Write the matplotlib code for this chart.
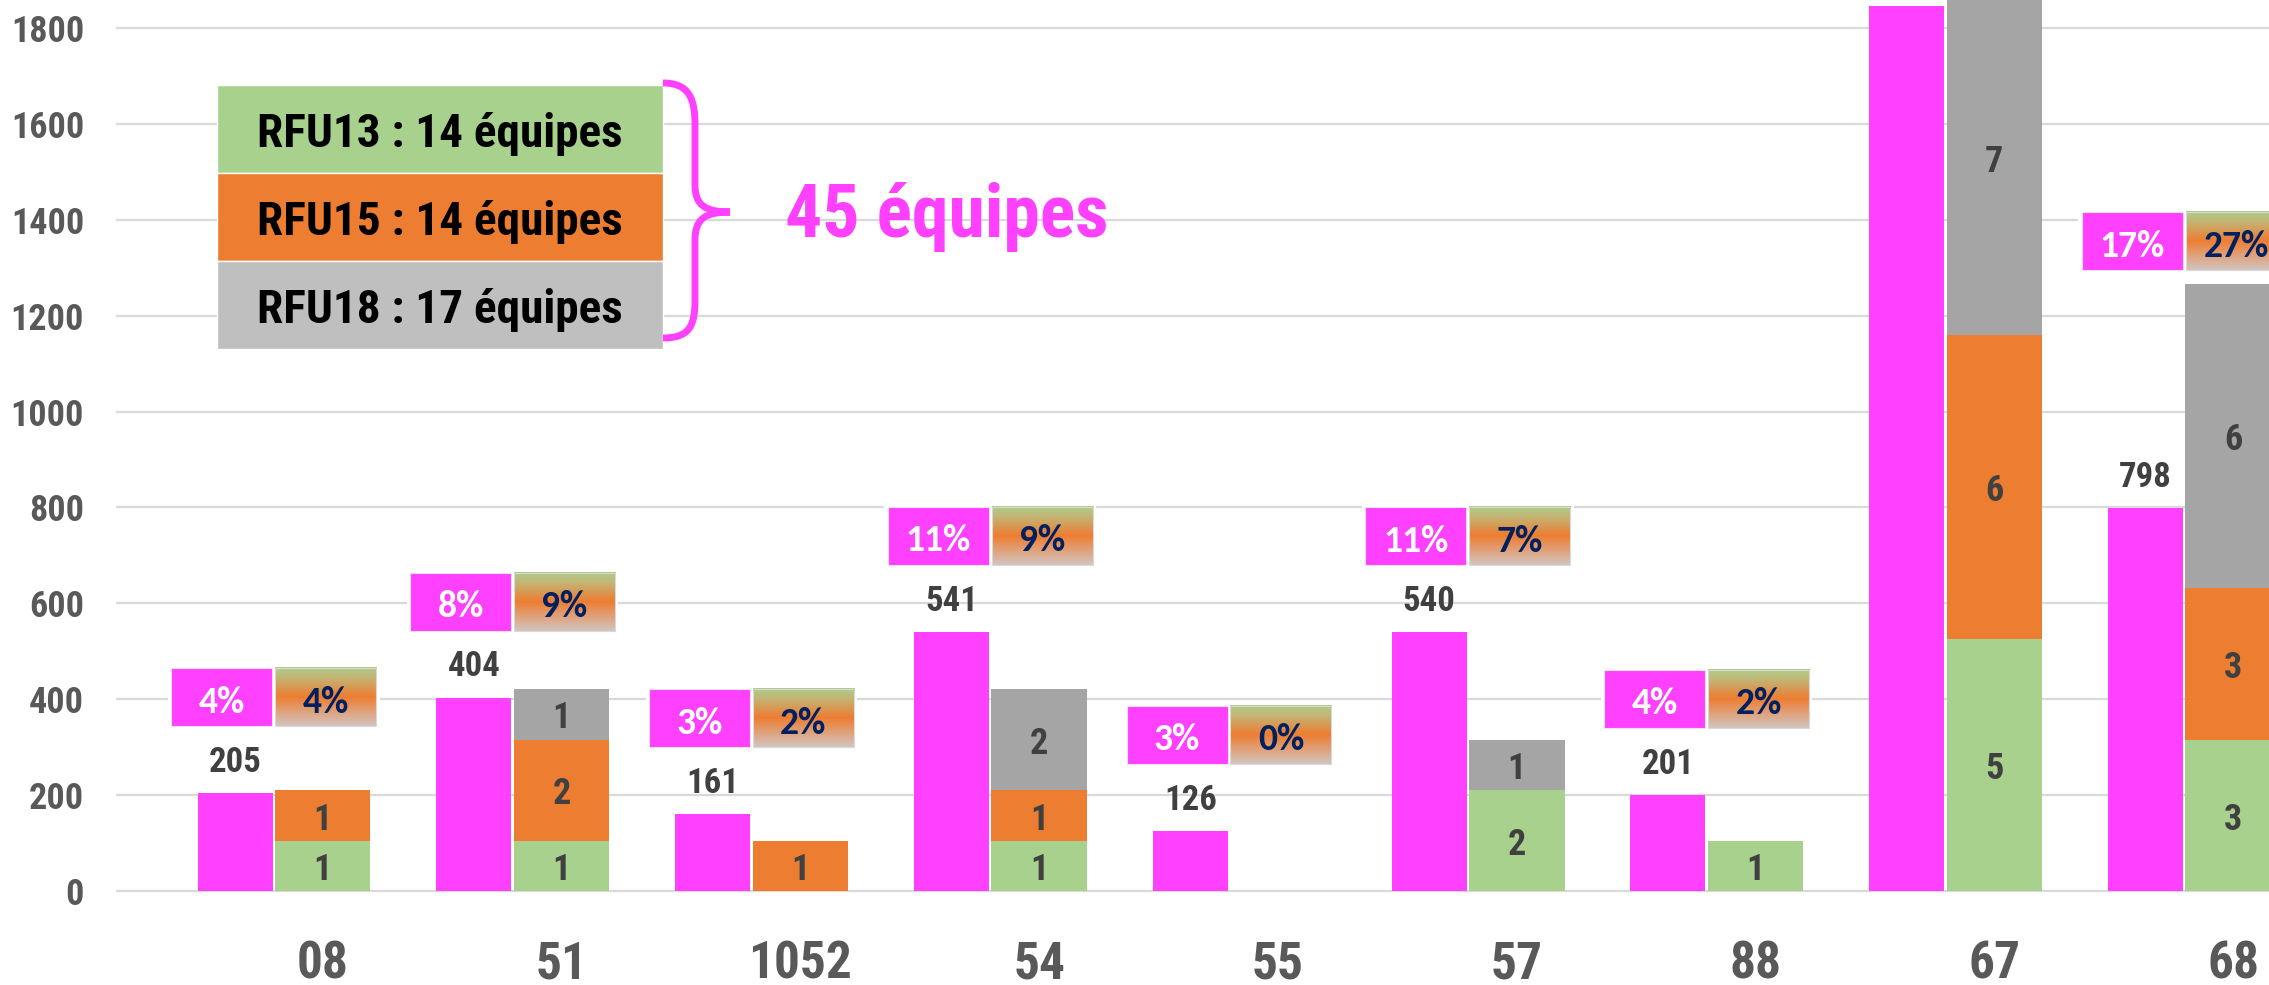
import os
import matplotlib
matplotlib.use("Agg")
import matplotlib.pyplot as plt
import numpy as np
from matplotlib import font_manager
from matplotlib.font_manager import FontProperties
from matplotlib.colors import LinearSegmentedColormap
from matplotlib.patches import Rectangle, PathPatch
from matplotlib.path import Path

# data
depts = ["08", "51", "1052", "54", "55", "57", "88", "67", "68"]
licencies = [205, 404, 161, 541, 126, 540, 201, 1845, 798]
rfu13 = [1, 1, 0, 1, 0, 2, 1, 5, 3]
rfu15 = [1, 2, 1, 1, 0, 0, 0, 6, 3]
rfu18 = [0, 1, 0, 2, 0, 1, 0, 7, 6]
pct_licencies = ["4%", "8%", "3%", "11%", "3%", "11%", "4%", None, "17%"]
pct_equipes = ["4%", "9%", "2%", "9%", "0%", "7%", "2%", None, "27%"]
legend_labels = ["RFU13 : 14 équipes", "RFU15 : 14 équipes", "RFU18 : 17 équipes"]
total_label = "45 équipes"
yticks = np.arange(0, 1801, 200)

PINK = "#FF40FF"
GREEN = "#A9D18E"
ORANGE = "#ED7D31"
GREY = "#A5A5A5"
LEGEND_GREY = "#BFBFBF"
TEAM = 105.4  # one team on the secondary scale


# fonts: look for a bold condensed face, and a calibri-like bold one
def norm(p):
    return os.path.splitext(os.path.basename(p))[0].lower().replace("-", "").replace("_", "").replace(" ", "")


files = font_manager.findSystemFonts()
files += font_manager.findSystemFonts(fontpaths=[os.path.join(matplotlib.get_data_path(), "fonts", "ttf")])
by_name = {norm(f): f for f in files}


def find_font(wanted, loose=None):
    for w in wanted:
        if w in by_name:
            return by_name[w]
    if loose:
        for n, f in sorted(by_name.items()):
            if loose(n):
                return f
    return None


narrow_file = find_font(
    ["liberationsansnarrowbold", "robotocondensedbold", "notosanscondensedbold",
     "opensanscondensedbold", "opensanscondbold", "dejavusanscondensedbold"],
    lambda n: ("condensed" in n or "narrow" in n) and n.endswith("bold")
    and "italic" not in n and "semi" not in n and "extra" not in n)
pct_file = find_font(["carlitobold", "latobold", "notosansbold", "opensansbold"])


def nfont(size):
    if narrow_file:
        return FontProperties(fname=narrow_file, size=size)
    return FontProperties(family="DejaVu Sans", weight="bold", size=size * 0.85)


def pfont(size):
    if pct_file:
        return FontProperties(fname=pct_file, size=size)
    return FontProperties(family="DejaVu Sans", weight="bold", size=size * 0.9)


W, H = 2269, 985
fig = plt.figure(figsize=(W / 100, H / 100), dpi=100)
left = 116 / W
ax = fig.add_axes([left, 0, 1 - left, 1])
ax2 = ax.twinx()

x = np.arange(len(depts))
stack_w, pink_w, gap = 0.40, 0.314, 0.01
xp = x - stack_w / 2 - gap - pink_w / 2

ax.bar(xp, licencies, width=pink_w, color=PINK, zorder=2)
for xi, v in zip(xp, licencies):
    if v + 44 < 1840:
        ax.text(xi, v + 44, str(v), ha="center", va="baseline",
                fontproperties=nfont(25), color="#404040", zorder=6)

r13 = np.array(rfu13)
r15 = np.array(rfu15)
r18 = np.array(rfu18)
segs = [(r13, np.zeros_like(r13), GREEN), (r15, r13, ORANGE), (r18, r13 + r15, GREY)]
for vals, bot, col in segs:
    ax2.bar(x, vals, bottom=bot, width=stack_w, color=col, zorder=2)
    for xi, v, b in zip(x, vals, bot):
        if v > 0:
            ax2.text(xi, b + v / 2, str(v), ha="center", va="center_baseline",
                     fontproperties=nfont(26), color="#404040", zorder=6)

# percentage boxes
cmap = LinearSegmentedColormap.from_list(
    "grad", [(0, "#ADCD8A"), (0.18, "#C4B574"), (0.5, ORANGE), (1, "#D3C5C1")])
grad = np.linspace(0, 1, 200).reshape(-1, 1)
bw, bh = 0.423, 121
totals = (r13 + r15 + r18) * TEAM
for i in range(len(depts)):
    if pct_licencies[i] is None:
        continue
    yc = max(licencies[i] + 200, totals[i] + 90)
    b = x[i] - stack_w / 2 - gap / 2
    ax.add_patch(Rectangle((b - bw - 0.02, yc - bh / 2 - 6), 2 * bw + 0.04, bh + 12,
                           fc="white", ec="none", zorder=3))
    ax.add_patch(Rectangle((b - 0.006 - bw, yc - bh / 2), bw, bh, fc=PINK,
                           ec="#F0E0F0", lw=0.8, zorder=4))
    ax.imshow(grad, cmap=cmap, aspect="auto", origin="upper", zorder=4,
              extent=[b + 0.006, b + 0.006 + bw, yc - bh / 2, yc + bh / 2])
    ax.add_patch(Rectangle((b + 0.006, yc - bh / 2), bw, bh, fc="none",
                           ec="#D9D9D9", lw=0.8, zorder=4))
    ax.text(b - 0.006 - bw / 2, yc - 4, pct_licencies[i], ha="center", va="center_baseline",
            fontproperties=pfont(27), color="white", zorder=6)
    ax.text(b + 0.006 + bw / 2, yc - 4, pct_equipes[i], ha="center", va="center_baseline",
            fontproperties=pfont(27), color="#002060", zorder=6)

for xi, d in zip(x, depts):
    ax.text(xi, -181, d, ha="center", va="baseline", fontproperties=nfont(37),
            color="#595959")

ax.set_xlim(-0.8656, 8.150)
ax.set_ylim(-194.8, 1857.3)
ax2.set_ylim(-194.8 / TEAM, 1857.3 / TEAM)
ax.set_xticks([])
ax.set_yticks(yticks, labels=[str(v) for v in yticks], fontproperties=nfont(26))
ax.tick_params(axis="y", length=0, pad=23, labelcolor="#595959")
ax.grid(axis="y", color="#D9D9D9", lw=1.6)
ax.set_axisbelow(True)
ax2.set_yticks([])
for a in (ax, ax2):
    for s in a.spines.values():
        s.set_visible(False)

# legend block, brace and total (pixel coordinates)
ov = fig.add_axes([0, 0, 1, 1])
ov.set_xlim(0, W)
ov.set_ylim(H, 0)
ov.axis("off")
ov.patch.set_alpha(0)
for k, (lab, col) in enumerate(zip(legend_labels, [GREEN, ORANGE, LEGEND_GREY])):
    y0 = 85 + k * 88
    ov.add_patch(Rectangle((217, y0), 446, 88, fc=col, ec="white", lw=1))
    ov.text(440, y0 + 44, lab, ha="center", va="center_baseline",
            fontproperties=nfont(34), color="black")

verts = [(663, 83), (690, 83), (695, 100), (695, 125), (695, 185),
         (695, 205), (705, 212), (730, 212),
         (705, 212), (695, 219), (695, 240), (695, 300),
         (695, 325), (690, 338), (663, 338)]
codes = [Path.MOVETO, Path.CURVE4, Path.CURVE4, Path.CURVE4, Path.LINETO,
         Path.CURVE4, Path.CURVE4, Path.CURVE4,
         Path.CURVE4, Path.CURVE4, Path.CURVE4, Path.LINETO,
         Path.CURVE4, Path.CURVE4, Path.CURVE4]
ov.add_patch(PathPatch(Path(verts, codes), fc="none", ec=PINK, lw=5))
ov.text(785, 237, total_label, ha="left", va="baseline", fontproperties=nfont(53),
        color=PINK)

fig.savefig("out.png", dpi=100)
